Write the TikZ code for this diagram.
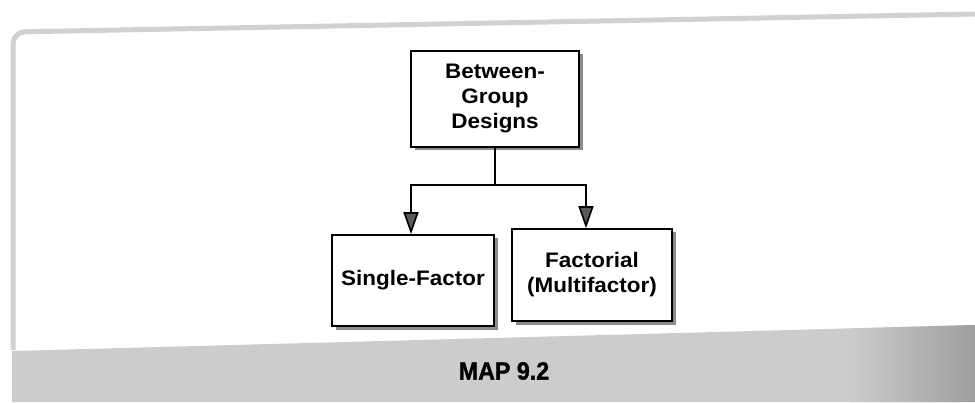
\documentclass[tikz,border=0pt]{standalone}
\usepackage{fontspec}
\setmainfont{Liberation Sans}[FakeStretch=1.07]
\newfontfamily\mapfont{Liberation Sans}[FakeStretch=0.93,BoldFeatures={FakeBold=1.2}]
\usetikzlibrary{arrows.meta,positioning,shadows,calc}
\definecolor{Frame}{gray}{0.82}
\definecolor{Band}{gray}{0.80}
\definecolor{BandDark}{gray}{0.62}
\definecolor{Shade}{gray}{0.55}
\definecolor{Head}{gray}{0.35}

\begin{document}
\begin{tikzpicture}[
  x=1pt,y=1pt,
  mapbox/.style={draw=black,line width=1.6pt,fill=white,align=center,
    font=\bfseries\fontsize{21}{25}\selectfont,inner sep=2pt,
    drop shadow={shadow xshift=3.5pt,shadow yshift=-3.5pt,fill=Shade,opacity=1}},
  link/.style={draw=black,line width=1.6pt},
  arrow/.style={link,-{Triangle[length=22pt,width=15pt,fill=Head]}}
]
\useasboundingbox (0,0) rectangle (975,402);
% page: frame and caption band
\draw[Frame,line width=5pt,rounded corners=12pt] (13,52) -- (13,370) -- (975,388);
\fill[Band] (12,51) -- (975,77) -- (975,0) -- (12,0) -- cycle;
\shade[left color=Band,right color=BandDark] (850,73.6) -- (975,77) -- (975,0) -- (850,0) -- cycle;

\node[mapbox,minimum width=168pt,minimum height=96pt] (between) at (495,303) {Between-\\Group\\Designs};
\node[mapbox,minimum width=162pt,minimum height=91pt] (single) at (413,121.5) {Single-Factor};
\node[mapbox,minimum width=160pt,minimum height=92pt] (factorial) at (592,127) {Factorial\\(Multifactor)};
\node[font=\mapfont\bfseries\fontsize{25}{29}\selectfont] (map) at (504,31) {MAP 9.2};

\coordinate (fork) at ($(between.south)+(0,-37)$);
\draw[link] (between.south) -- (fork);
\draw[arrow] (fork) -| ([xshift=-2pt]single.north);
\draw[arrow] (fork) -| ([xshift=-6pt]factorial.north);
\end{tikzpicture}
\end{document}
